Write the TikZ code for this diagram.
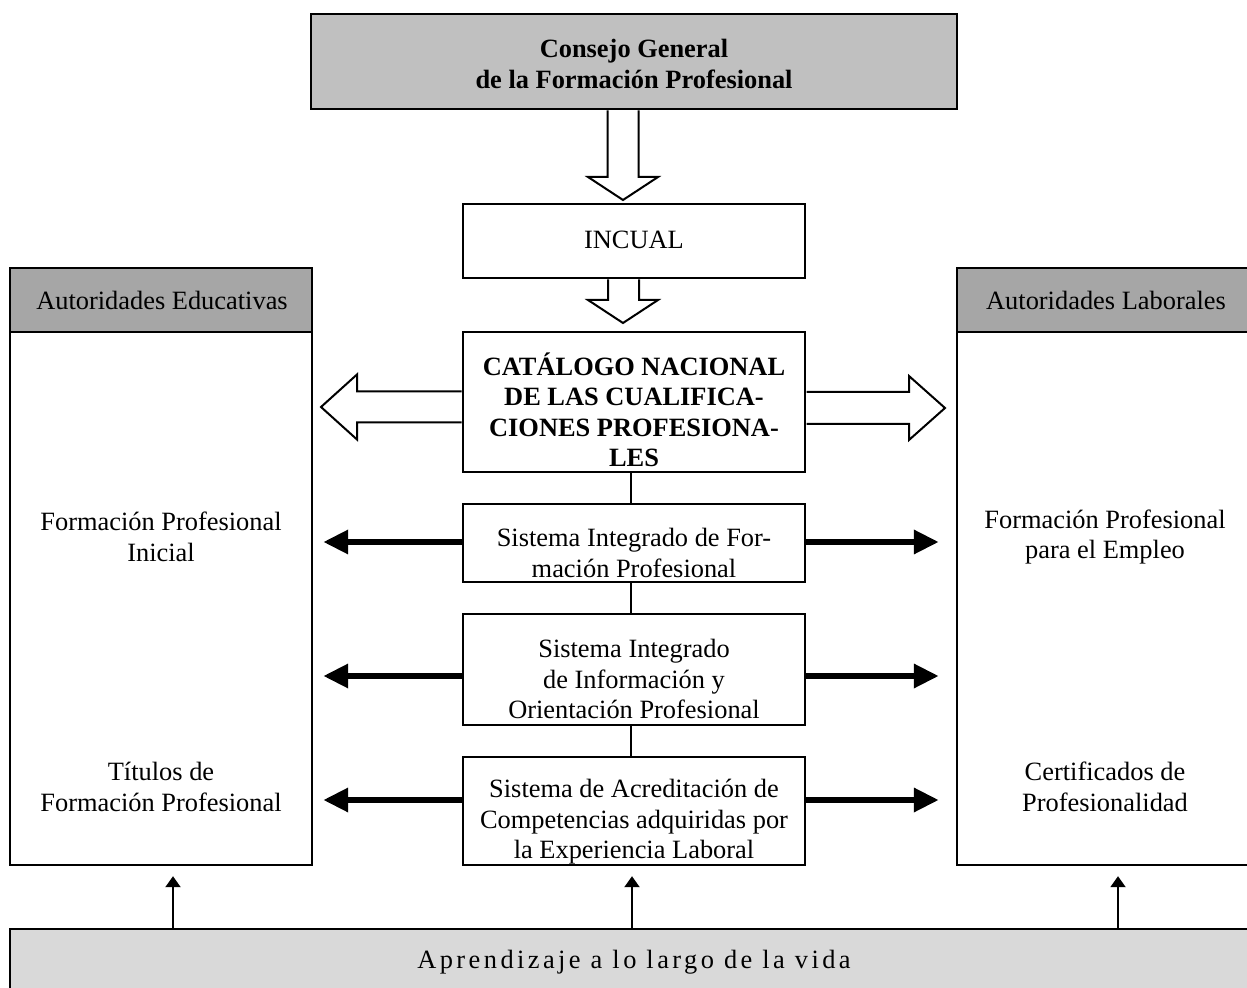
\documentclass[tikz,border=0pt]{standalone}
\usepackage{fontspec}
\setmainfont{Liberation Serif}
\usetikzlibrary{arrows.meta, positioning, calc, fit}
\definecolor{topgray}{HTML}{C0C0C0}
\definecolor{headgray}{HTML}{A6A6A6}
\definecolor{lifegray}{HTML}{D9D9D9}
\newcommand{\diagfont}{\fontsize{13.2}{15.25}\selectfont}

\begin{document}
\begin{tikzpicture}[x=0.5pt, y=-0.5pt, font=\diagfont,
  box/.style={draw, line width=1.2pt, inner sep=0pt},
  txt/.style={align=center, inner sep=0pt},
  hollow/.style={draw, line width=1pt, fill=white, line join=miter},
  heavy/.style={-{Triangle[length=12.5pt, width=11.5pt]}, line width=3.1pt},
  link/.style={line width=0.75pt},
  uparrow/.style={-{Triangle[length=5.5pt, width=7.5pt]}, line width=1pt}]

\useasboundingbox (0,0) rectangle (1247,988);

% centre column
\node[box, fill=topgray, fit={(311,14) (957,109)}] (consejo) {};
\node[txt, font=\diagfont\bfseries] (consejo-t) at (634,64) {Consejo General\\de la Formación Profesional};
\node[box, fit={(463,204) (805,278)}] (incual) {};
\node[txt] (incual-t) at (634,240) {INCUAL};
\node[box, fit={(463,332) (805,472)}] (catalogo) {};
\node[txt, font=\diagfont\bfseries] (catalogo-t) at (634,410) {CATÁLOGO NACIONAL\\DE LAS CUALIFICA-\\CIONES PROFESIONA-\\LES};
\node[box, fit={(463,504) (805,582)}] (sifp) {};
\node[txt] (sifp-t) at (634,553) {Sistema Integrado de For-\\mación Profesional};
\node[box, fit={(463,614) (805,725)}] (siiop) {};
\node[txt] (siiop-t) at (634,679) {Sistema Integrado\\de Información y\\Orientación Profesional};
\node[box, fit={(463,757) (805,865)}] (saca) {};
\node[txt] (saca-t) at (634,822) {Sistema de Acreditación de\\Competencias adquiridas por\\la Experiencia Laboral};

% side columns
\node[box, fill=headgray, fit={(10,268) (312,332)}] (lhead) {};
\node[txt] (lhead-t) at (162,300) {Autoridades Educativas};
\node[box, fit={(10,332) (312,865)}] (lbody) {};
\node[txt] (lfpi) at (161,537) {Formación Profesional\\Inicial};
\node[txt] (ltit) at (161,787) {Títulos de\\Formación Profesional};
\node[box, fill=headgray, fit={(957,268) (1249,332)}] (rhead) {};
\node[txt] (rhead-t) at (1106,300) {Autoridades Laborales};
\node[box, fit={(957,332) (1249,865)}] (rbody) {};
\node[txt] (rfpe) at (1105,537) {Formación Profesional\\para el Empleo};
\node[txt] (rcert) at (1105,787) {Certificados de\\Profesionalidad};

% bottom band
\node[box, fill=lifegray, fit={(10,929) (1251,992)}] (vida) {};
\node[txt, font=\diagfont\addfontfeature{LetterSpace=13}] (vida-t) at (634,962) {Aprendizaje a lo largo de la vida};

% block arrows
\draw[hollow] (607.5,110.5) -- (607.5,177) -- (588,177) -- (623,200) -- (658,177) -- (638.5,177) -- (638.5,110.5);
\draw[hollow] (608,279.5) -- (608,300) -- (588,300) -- (623,323) -- (658,300) -- (639,300) -- (639,279.5);
\draw[hollow] (461.5,391.5) -- (357,391.5) -- (357,374.5) -- (321,407) -- (357,439.5) -- (357,422.5) -- (461.5,422.5);
\draw[hollow] (806.5,392) -- (909,392) -- (909,376) -- (945,408) -- (909,440) -- (909,424) -- (806.5,424);

% links down the centre
\coordinate (mid) at (631,0);
\draw[link] (catalogo.south -| mid) -- (sifp.north -| mid);
\draw[link] (sifp.south -| mid) -- (siiop.north -| mid);
\draw[link] (siiop.south -| mid) -- (saca.north -| mid);

% arrows out to both sides
\foreach \b/\y in {sifp/542, siiop/676, saca/800} {
  \coordinate (row-\b) at (0,\y);
  \draw[heavy, shorten >=5pt] (\b.west |- row-\b) -- (lbody.east |- row-\b);
  \draw[heavy, shorten >=8.5pt] (\b.east |- row-\b) -- (rbody.west |- row-\b);
}

% arrows up from the bottom band
\foreach \n/\x/\t in {1/173/lbody, 2/632/saca, 3/1118/rbody} {
  \coordinate (up-\n) at (\x,0);
  \draw[uparrow, shorten >=5pt] (vida.north -| up-\n) -- (\t.south -| up-\n);
}
\end{tikzpicture}
\end{document}
